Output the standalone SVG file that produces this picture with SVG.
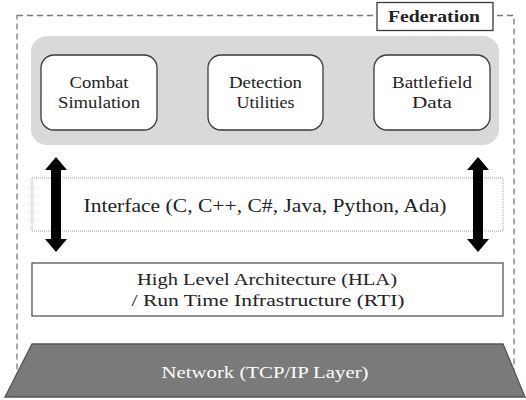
<svg xmlns="http://www.w3.org/2000/svg" width="526" height="400" viewBox="0 0 526 400">
  <defs>
    <style>
      .txt { font-family: "Liberation Serif", "Times New Roman", serif; fill: #222; text-anchor: middle; }
      .node rect { fill: #ffffff; stroke: #3a3a3a; stroke-width: 1.3; }
      .arrow { fill: #000; }
    </style>
  </defs>
  <rect width="526" height="400" fill="#ffffff"/>

  <!-- federation boundary (dashed) -->
  <g id="federation">
    <rect x="17" y="15.5" width="497" height="370" fill="none" stroke="#7a7a7a" stroke-width="1.3" stroke-dasharray="6 4"/>
    <rect x="377" y="2.5" width="116" height="28" fill="#ffffff" stroke="#3a3a3a" stroke-width="1.3"/>
    <text class="txt" x="434" y="22" font-size="17" font-weight="bold" textLength="92" lengthAdjust="spacingAndGlyphs">Federation</text>
  </g>

  <!-- federate container -->
  <rect x="31" y="36" width="468" height="109" rx="16" fill="#d9d9d9"/>

  <g id="combat" class="node">
    <rect x="41" y="55" width="116" height="75" rx="13"/>
    <text class="txt" x="99" y="88" font-size="16" textLength="59" lengthAdjust="spacingAndGlyphs">Combat</text>
    <text class="txt" x="99" y="108" font-size="16" textLength="82" lengthAdjust="spacingAndGlyphs">Simulation</text>
  </g>
  <g id="detection" class="node">
    <rect x="208" y="55" width="115" height="75" rx="13"/>
    <text class="txt" x="265.5" y="88" font-size="16" textLength="73" lengthAdjust="spacingAndGlyphs">Detection</text>
    <text class="txt" x="265.5" y="108" font-size="16" textLength="58" lengthAdjust="spacingAndGlyphs">Utilities</text>
  </g>
  <g id="battlefield" class="node">
    <rect x="374" y="55" width="116" height="75" rx="13"/>
    <text class="txt" x="432" y="88" font-size="16" textLength="80" lengthAdjust="spacingAndGlyphs">Battlefield</text>
    <text class="txt" x="432" y="108" font-size="16" textLength="40" lengthAdjust="spacingAndGlyphs">Data</text>
  </g>

  <g id="interface">
    <rect x="32" y="178" width="471" height="53" fill="#ffffff" stroke="#a0a0a0" stroke-width="1" stroke-dasharray="1 1"/>
    <text class="txt" x="265" y="212" font-size="18.5" textLength="363" lengthAdjust="spacingAndGlyphs">Interface (C, C++, C#, Java, Python, Ada)</text>
  </g>

  <!-- bidirectional connectors -->
  <g id="connectors">
    <polygon class="arrow" points="56,157 67,170 61,170 61,239 67,239 56,252 45,239 51,239 51,170 45,170"/>
    <polygon class="arrow" points="478,157 489,170 483,170 483,239 489,239 478,252 467,239 473,239 473,170 467,170"/>
  </g>

  <g id="hla">
    <rect x="32" y="263" width="471" height="53" fill="#ffffff" stroke="#555" stroke-width="1.3"/>
    <text class="txt" x="267" y="285" font-size="17.5" textLength="260" lengthAdjust="spacingAndGlyphs">High Level Architecture (HLA)</text>
    <text class="txt" x="268" y="306" font-size="17.5" textLength="273" lengthAdjust="spacingAndGlyphs">/ Run Time Infrastructure (RTI)</text>
  </g>

  <g id="network">
    <polygon points="32,344 503,344 525,397 5,397" fill="#7a7a7a" stroke="#555" stroke-width="1.3"/>
    <text class="txt" x="265" y="378" font-size="17.5" style="fill:#ffffff" textLength="207" lengthAdjust="spacingAndGlyphs">Network (TCP/IP Layer)</text>
  </g>
</svg>
